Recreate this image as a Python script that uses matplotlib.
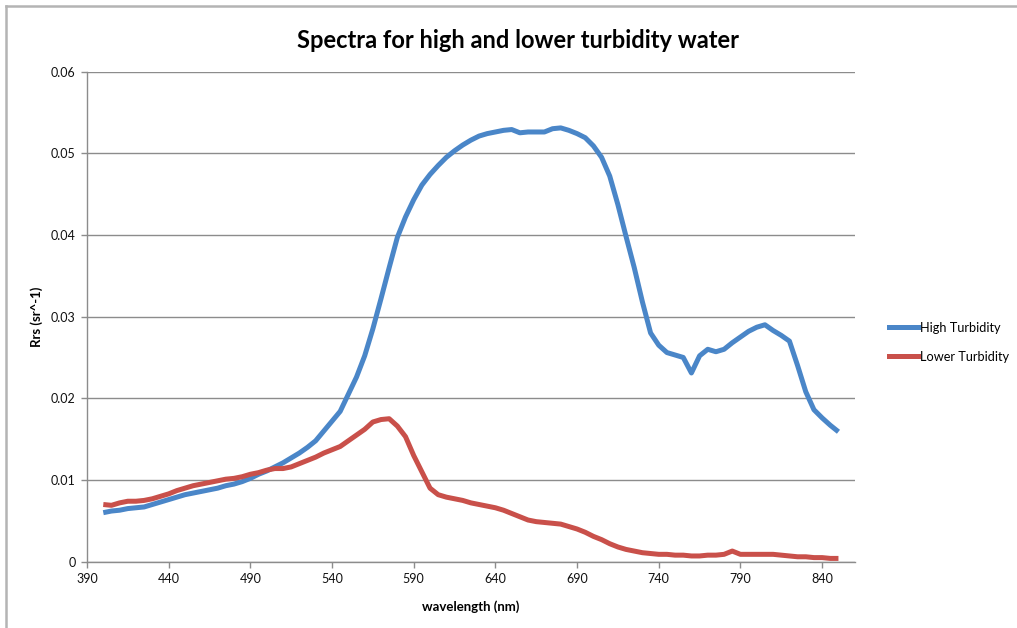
import matplotlib
matplotlib.use("Agg")
import matplotlib.pyplot as plt
from matplotlib.lines import Line2D

wavelength = [400, 405, 410, 415, 420, 425, 430, 435, 440, 445, 450, 455, 460, 465, 470,
              475, 480, 485, 490, 495, 500, 505, 510, 515, 520, 525, 530, 535, 540, 545,
              550, 555, 560, 565, 570, 575, 580, 585, 590, 595, 600, 605, 610, 615, 620,
              625, 630, 635, 640, 645, 650, 655, 660, 665, 670, 675, 680, 685, 690, 695,
              700, 705, 710, 715, 720, 725, 730, 735, 740, 745, 750, 755, 760, 765, 770,
              775, 780, 785, 790, 795, 800, 805, 810, 815, 820, 825, 830, 835, 840, 845, 850]

high_turbidity = [0.0060, 0.0062, 0.0063, 0.0065, 0.0066, 0.0067, 0.0070, 0.0073, 0.0076, 0.0079,
                  0.0082, 0.0084, 0.0086, 0.0088, 0.0090, 0.0093, 0.0095, 0.0098, 0.0102, 0.0107,
                  0.0111, 0.0116, 0.0121, 0.0127, 0.0133, 0.0140, 0.0148, 0.0160, 0.0172, 0.0184,
                  0.0205, 0.0226, 0.0252, 0.0285, 0.0322, 0.0360, 0.0397, 0.0422, 0.0443, 0.0461,
                  0.0474, 0.0485, 0.0495, 0.0503, 0.0510, 0.0516, 0.0521, 0.0524, 0.0526, 0.0528,
                  0.0529, 0.0525, 0.0526, 0.0526, 0.0526, 0.0530, 0.0531, 0.0528, 0.0524, 0.0519,
                  0.0509, 0.0495, 0.0472, 0.0437, 0.0398, 0.0360, 0.0318, 0.0280, 0.0265, 0.0256,
                  0.0253, 0.0250, 0.0231, 0.0252, 0.0260, 0.0257, 0.0260, 0.0268, 0.0275, 0.0282,
                  0.0287, 0.0290, 0.0283, 0.0277, 0.0270, 0.0240, 0.0208, 0.0186, 0.0176, 0.0167,
                  0.0159]

lower_turbidity = [0.0070, 0.0069, 0.0072, 0.0074, 0.0074, 0.0075, 0.0077, 0.0080, 0.0083, 0.0087,
                   0.0090, 0.0093, 0.0095, 0.0097, 0.0099, 0.0101, 0.0102, 0.0104, 0.0107, 0.0109,
                   0.0112, 0.0114, 0.0114, 0.0116, 0.0120, 0.0124, 0.0128, 0.0133, 0.0137, 0.0141,
                   0.0148, 0.0155, 0.0162, 0.0171, 0.0174, 0.0175, 0.0166, 0.0153, 0.0130, 0.0110,
                   0.0090, 0.0082, 0.0079, 0.0077, 0.0075, 0.0072, 0.0070, 0.0068, 0.0066, 0.0063,
                   0.0059, 0.0055, 0.0051, 0.0049, 0.0048, 0.0047, 0.0046, 0.0043, 0.0040, 0.0036,
                   0.0031, 0.0027, 0.0022, 0.0018, 0.0015, 0.0013, 0.0011, 0.0010, 0.0009, 0.0009,
                   0.0008, 0.0008, 0.0007, 0.0007, 0.0008, 0.0008, 0.0009, 0.0013, 0.0009, 0.0009,
                   0.0009, 0.0009, 0.0009, 0.0008, 0.0007, 0.0006, 0.0006, 0.0005, 0.0005, 0.0004,
                   0.0004]

x_ticks = [390, 440, 490, 540, 590, 640, 690, 740, 790, 840]
y_ticks = [0, 0.01, 0.02, 0.03, 0.04, 0.05, 0.06]
y_tick_labels = ["0", "0.01", "0.02", "0.03", "0.04", "0.05", "0.06"]

plt.rcParams['font.family'] = ['Lato', 'DejaVu Sans']

fig = plt.figure(figsize=(10.17, 6.28), dpi=100)
ax = fig.add_axes([0.0855, 0.1056, 0.755, 0.7805])

blue = '#4A86C8'
red = '#C9504A'
ax.plot(wavelength, high_turbidity, color=blue, lw=3.6, solid_capstyle='butt',
        solid_joinstyle='round', zorder=3)
ax.plot(wavelength, lower_turbidity, color=red, lw=3.6, solid_capstyle='butt',
        solid_joinstyle='round', zorder=3)

ax.set_xlim(390, 860)
ax.set_ylim(0, 0.06)
ax.set_xticks(x_ticks)
ax.set_yticks(y_ticks)
ax.set_yticklabels(y_tick_labels)

gc = '#8C8C8C'
ax.yaxis.grid(True, color=gc, lw=1.0)
ax.set_axisbelow(True)
for s in ['top', 'right']:
    ax.spines[s].set_visible(False)
for s in ['left', 'bottom']:
    ax.spines[s].set_color(gc)
    ax.spines[s].set_linewidth(1.0)
ax.tick_params(axis='both', direction='out', length=4, width=1, color=gc,
               labelsize=9, labelcolor='#111111', pad=4)

ax.set_xlabel('wavelength (nm)', fontsize=9.5, fontweight='bold', labelpad=11)
ax.set_ylabel('Rrs (sr^-1)', fontsize=9.5, fontweight='bold', labelpad=6)
fig.text(0.5095, 0.935, 'Spectra for high and lower turbidity water', ha='center', va='center',
         fontsize=17, fontweight='bold')

handles = [Line2D([0], [0], color=blue, lw=3.6), Line2D([0], [0], color=red, lw=3.6)]
fig.legend(handles, ['High Turbidity', 'Lower Turbidity'], loc='center left',
           bbox_to_anchor=(0.869, 0.455), frameon=False, fontsize=9.2,
           handlelength=2.3, handletextpad=0.1, labelspacing=1.35, borderaxespad=0)

# outer frame (top and left edges visible)
fig.add_artist(Line2D([0.0055, 1.0], [1 - 5.5 / 628, 1 - 5.5 / 628], color='#B4B4B4', lw=1.8,
                      transform=fig.transFigure))
fig.add_artist(Line2D([5.5 / 1017, 5.5 / 1017], [0, 1 - 5.5 / 628], color='#B4B4B4', lw=1.8,
                      transform=fig.transFigure))

fig.savefig('out.png', dpi=100)
